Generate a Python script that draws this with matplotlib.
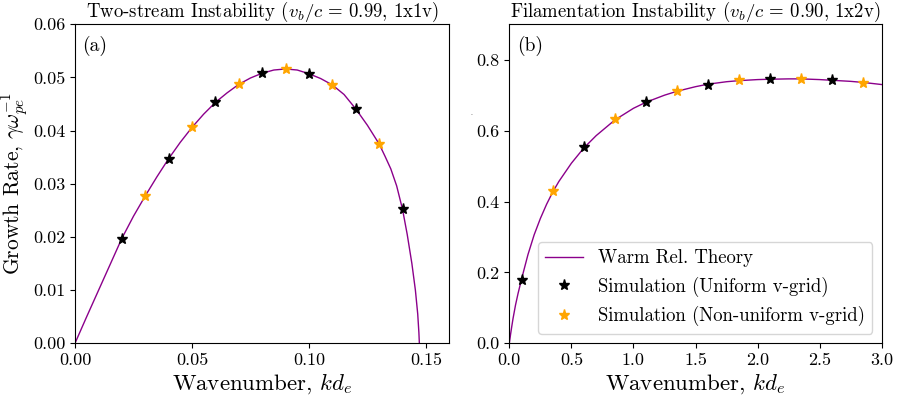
import matplotlib
matplotlib.use("Agg")
import matplotlib.pyplot as plt

# Computer Modern look without LaTeX
plt.rcParams["font.family"] = "serif"
plt.rcParams["font.serif"] = ["cmr10"]
plt.rcParams["mathtext.fontset"] = "cm"
plt.rcParams["axes.formatter.use_mathtext"] = True

# (a) two-stream: theory curve and simulation points
k_ts_theory = [0.0, 0.005, 0.01, 0.015, 0.02, 0.025, 0.03, 0.035, 0.04, 0.045,
               0.05, 0.055, 0.06, 0.065, 0.07, 0.075, 0.08, 0.085, 0.09, 0.095,
               0.10, 0.105, 0.11, 0.115, 0.12, 0.125, 0.13, 0.1325, 0.135, 0.1375,
               0.14, 0.142, 0.144, 0.1455, 0.1465, 0.147, 0.1472]
g_ts_theory = [0.0, 0.0050, 0.0099, 0.0148, 0.0197, 0.0239, 0.0277, 0.0313, 0.0347, 0.0378,
               0.0406, 0.0431, 0.0453, 0.0471, 0.0487, 0.0499, 0.0508, 0.0514, 0.0516, 0.0514,
               0.0507, 0.0498, 0.0486, 0.0468, 0.0441, 0.0410, 0.0375, 0.0352, 0.0328, 0.0296,
               0.0252, 0.0205, 0.0150, 0.0100, 0.0055, 0.0020, 0.0]
k_ts_uni = [0.02, 0.04, 0.06, 0.08, 0.10, 0.12, 0.14]
g_ts_uni = [0.0197, 0.0347, 0.0453, 0.0508, 0.0507, 0.0441, 0.0252]
k_ts_non = [0.03, 0.05, 0.07, 0.09, 0.11, 0.13]
g_ts_non = [0.0277, 0.0406, 0.0487, 0.0516, 0.0486, 0.0375]

# (b) filamentation
k_fil_theory = [0.0, 0.01, 0.02, 0.03, 0.05, 0.07, 0.1, 0.15, 0.2, 0.25,
                0.3, 0.35, 0.4, 0.5, 0.6, 0.7, 0.85, 1.0, 1.1, 1.25,
                1.35, 1.5, 1.6, 1.75, 1.85, 2.0, 2.1, 2.25, 2.35, 2.5,
                2.6, 2.75, 2.85, 3.0]
g_fil_theory = [0.0, 0.025, 0.048, 0.070, 0.108, 0.140, 0.183, 0.250, 0.306, 0.352,
                0.392, 0.427, 0.457, 0.508, 0.551, 0.586, 0.630, 0.663, 0.680, 0.700,
                0.711, 0.724, 0.731, 0.738, 0.741, 0.744, 0.745, 0.746, 0.746, 0.744,
                0.742, 0.739, 0.736, 0.730]
k_fil_uni = [0.1, 0.6, 1.1, 1.6, 2.1, 2.6]
g_fil_uni = [0.178, 0.554, 0.681, 0.730, 0.745, 0.742]
k_fil_non = [0.35, 0.85, 1.35, 1.85, 2.35, 2.85]
g_fil_non = [0.430, 0.632, 0.713, 0.742, 0.746, 0.735]

line_color = "darkmagenta"

fig = plt.figure(figsize=(8.97, 3.97), dpi=100)
ax1 = fig.add_axes([0.0836, 0.1353, 0.4173, 0.8035])
ax2 = fig.add_axes([0.5678, 0.1353, 0.4152, 0.8035])

ax1.plot(k_ts_theory, g_ts_theory, color=line_color, lw=1, label="Warm Rel. Theory")
ax1.plot(k_ts_uni, g_ts_uni, "*", color="black", ms=8, lw=0, label="Simulation (Uniform v-grid)")
ax1.plot(k_ts_non, g_ts_non, "*", color="orange", ms=8, lw=0, label="Simulation (Non-uniform v-grid)")
ax1.set_xlim(0, 0.16)
ax1.set_ylim(0, 0.06)
ax1.set_xticks([0.0, 0.05, 0.10, 0.15])
ax1.set_xticklabels(["0.00", "0.05", "0.10", "0.15"])
ax1.set_yticks([0.0, 0.01, 0.02, 0.03, 0.04, 0.05, 0.06])
ax1.set_yticklabels(["0.00", "0.01", "0.02", "0.03", "0.04", "0.05", "0.06"])
ax1.set_title(r"Two-stream Instability ($v_b/c$ = 0.99, 1x1v)", fontsize=13.5, pad=4)
ax1.set_xlabel(r"Wavenumber, $kd_e$", fontsize=16.5, labelpad=2)
ax1.set_ylabel(r"Growth Rate, $\gamma\omega_{pe}^{-1}$", fontsize=15.5)
ax1.yaxis.set_label_coords(-0.118, 0.5)
ax1.text(0.02, 0.965, "(a)", transform=ax1.transAxes, va="top", fontsize=14)

ax2.plot(k_fil_theory, g_fil_theory, color=line_color, lw=1, label="Warm Rel. Theory")
ax2.plot(k_fil_uni, g_fil_uni, "*", color="black", ms=8, lw=0, label="Simulation (Uniform v-grid)")
ax2.plot(k_fil_non, g_fil_non, "*", color="orange", ms=8, lw=0, label="Simulation (Non-uniform v-grid)")
ax2.set_xlim(0, 3.0)
ax2.set_ylim(0, 0.9)
ax2.set_xticks([0.0, 0.5, 1.0, 1.5, 2.0, 2.5, 3.0])
ax2.set_xticklabels(["0.0", "0.5", "1.0", "1.5", "2.0", "2.5", "3.0"])
ax2.set_yticks([0.0, 0.2, 0.4, 0.6, 0.8])
ax2.set_yticklabels(["0.0", "0.2", "0.4", "0.6", "0.8"])
ax2.set_title(r"Filamentation Instability ($v_b/c$ = 0.90, 1x2v)", fontsize=13.5, pad=4)
ax2.set_xlabel(r"Wavenumber, $kd_e$", fontsize=16.5, labelpad=2)
ax2.text(0.02, 0.965, "(b)", transform=ax2.transAxes, va="top", fontsize=14)
ax2.legend(loc="lower right", fontsize=13.5)

for ax in (ax1, ax2):
    ax.tick_params(labelsize=13)

fig.text(471 / 897, 1 - 113 / 397, ".", fontsize=5, ha="center", va="center")

fig.savefig("out.png", dpi=100)
